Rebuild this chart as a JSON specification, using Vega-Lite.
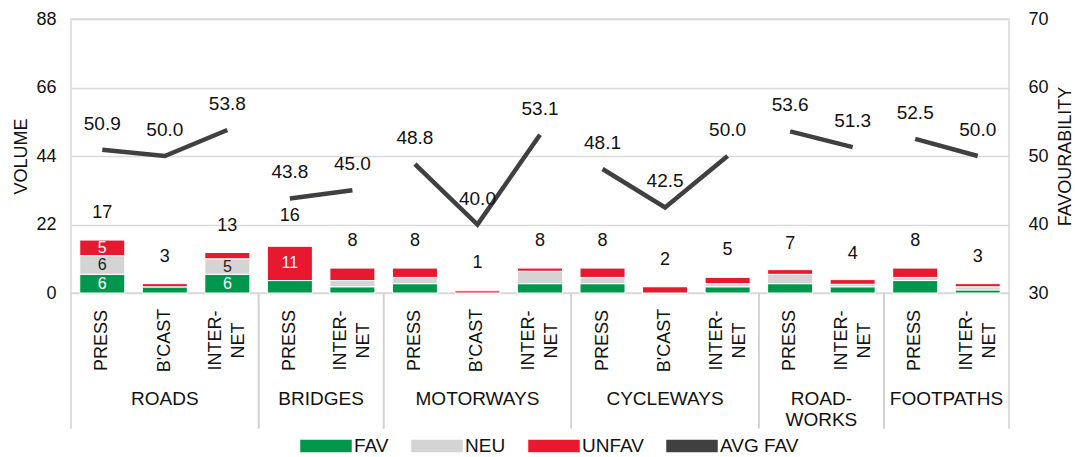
{
  "$schema": "https://vega.github.io/schema/vega-lite/v6.json",
  "width": 938,
  "height": 274,
  "autosize": "none",
  "padding": {"left": 71, "top": 19, "right": 66, "bottom": 164},
  "config": {
    "font": "Liberation Sans",
    "view": {"stroke": "#d9d9d9", "strokeWidth": 1.5},
    "text": {"font": "Liberation Sans", "color": "#111"}
  },
  "datasets": {
    "bars": [
      {"cat": "ROADS", "slot": "ROADS|PRESS", "FAV": 6, "NEU": 6, "UNFAV": 5, "total": 17, "avg": 50.9},
      {"cat": "ROADS", "slot": "ROADS|B'CAST", "FAV": 2, "NEU": 0, "UNFAV": 1, "total": 3, "avg": 50.0},
      {"cat": "ROADS", "slot": "ROADS|INTERNET", "FAV": 6, "NEU": 5, "UNFAV": 2, "total": 13, "avg": 53.8},
      {"cat": "BRIDGES", "slot": "BRIDGES|PRESS", "FAV": 4, "NEU": 0, "UNFAV": 11, "total": 16, "avg": 43.8},
      {"cat": "BRIDGES", "slot": "BRIDGES|INTERNET", "FAV": 2, "NEU": 2, "UNFAV": 4, "total": 8, "avg": 45.0},
      {"cat": "MOTORWAYS", "slot": "MOTORWAYS|PRESS", "FAV": 3, "NEU": 2, "UNFAV": 3, "total": 8, "avg": 48.8},
      {"cat": "MOTORWAYS", "slot": "MOTORWAYS|B'CAST", "FAV": 0, "NEU": 0, "UNFAV": 0.7, "total": 1, "avg": 40.0},
      {"cat": "MOTORWAYS", "slot": "MOTORWAYS|INTERNET", "FAV": 3, "NEU": 4, "UNFAV": 1, "total": 8, "avg": 53.1},
      {"cat": "CYCLEWAYS", "slot": "CYCLEWAYS|PRESS", "FAV": 3, "NEU": 2, "UNFAV": 3, "total": 8, "avg": 48.1},
      {"cat": "CYCLEWAYS", "slot": "CYCLEWAYS|B'CAST", "FAV": 0, "NEU": 0, "UNFAV": 2, "total": 2, "avg": 42.5},
      {"cat": "CYCLEWAYS", "slot": "CYCLEWAYS|INTERNET", "FAV": 2, "NEU": 1, "UNFAV": 2, "total": 5, "avg": 50.0},
      {"cat": "ROADWORKS", "slot": "ROADWORKS|PRESS", "FAV": 3, "NEU": 3, "UNFAV": 1.5, "total": 7, "avg": 53.6},
      {"cat": "ROADWORKS", "slot": "ROADWORKS|INTERNET", "FAV": 2, "NEU": 0.8, "UNFAV": 1.5, "total": 4, "avg": 51.3},
      {"cat": "FOOTPATHS", "slot": "FOOTPATHS|PRESS", "FAV": 4, "NEU": 1, "UNFAV": 3, "total": 8, "avg": 52.5},
      {"cat": "FOOTPATHS", "slot": "FOOTPATHS|INTERNET", "FAV": 1, "NEU": 1, "UNFAV": 1, "total": 3, "avg": 50.0}
    ],
    "cats": [
      {"cat": "ROADS", "first": "ROADS|PRESS", "last": "ROADS|INTERNET", "anchor": "ROADS|B'CAST", "n": 3},
      {"cat": "BRIDGES", "first": "BRIDGES|PRESS", "last": "BRIDGES|INTERNET", "anchor": "BRIDGES|PRESS", "n": 2},
      {"cat": "MOTORWAYS", "first": "MOTORWAYS|PRESS", "last": "MOTORWAYS|INTERNET", "anchor": "MOTORWAYS|B'CAST", "n": 3},
      {"cat": "CYCLEWAYS", "first": "CYCLEWAYS|PRESS", "last": "CYCLEWAYS|INTERNET", "anchor": "CYCLEWAYS|B'CAST", "n": 3},
      {"cat": "ROAD-\nWORKS", "first": "ROADWORKS|PRESS", "last": "ROADWORKS|INTERNET", "anchor": "ROADWORKS|PRESS", "n": 2},
      {"cat": "FOOTPATHS", "first": "FOOTPATHS|PRESS", "last": "FOOTPATHS|INTERNET", "anchor": "FOOTPATHS|PRESS", "n": 2}
    ]
  },
  "layer": [
    {
      "layer": [
        {
          "data": {"name": "bars"},
          "transform": [{"fold": ["FAV", "NEU", "UNFAV"], "as": ["series", "value"]}],
          "mark": {"type": "bar", "width": {"band": 0.72}, "stroke": "white", "strokeWidth": 1},
          "encoding": {
            "x": {
              "field": "slot", "type": "nominal",
              "scale": {"domain": ["ROADS|PRESS","ROADS|B'CAST","ROADS|INTERNET","BRIDGES|PRESS","BRIDGES|INTERNET","MOTORWAYS|PRESS","MOTORWAYS|B'CAST","MOTORWAYS|INTERNET","CYCLEWAYS|PRESS","CYCLEWAYS|B'CAST","CYCLEWAYS|INTERNET","ROADWORKS|PRESS","ROADWORKS|INTERNET","FOOTPATHS|PRESS","FOOTPATHS|INTERNET"], "paddingInner": 0, "paddingOuter": 0},
              "axis": {
                "title": null,
                "labelExpr": "split(datum.value,'|')[1] == 'INTERNET' ? ['INTER-','NET'] : split(datum.value,'|')[1]",
                "labelAngle": -90, "labelAlign": "center", "labelBaseline": "middle",
                "labelOffset": {"condition": {"test": "indexof(datum.value, 'INTERNET') >= 0", "value": -11}, "value": 0},
                "labelPadding": 47, "ticks": false, "tickSize": 0, "domain": false, "grid": false,
                "labelFontSize": 18, "labelLineHeight": 23, "labelColor": "#111", "labelFont": "Liberation Sans"
              }
            },
            "y": {
              "field": "value", "type": "quantitative", "stack": "zero",
              "scale": {"domain": [0, 88], "nice": false},
              "axis": {
                "title": "VOLUME", "values": [0, 22, 44, 66, 88], "grid": true, "gridColor": "#d9d9d9", "gridWidth": 1.5,
                "ticks": false, "domain": false, "labelPadding": 15, "labelFontSize": 18, "labelColor": "#111",
                "titleFontSize": 18, "titleFontWeight": "normal", "titleColor": "#111", "titlePadding": 5, "labelFont": "Liberation Sans", "titleFont": "Liberation Sans"
              }
            },
            "order": {"field": "series", "sort": "ascending"},
            "color": {
              "field": "series", "type": "nominal",
              "scale": {"domain": ["FAV", "NEU", "UNFAV", "AVG FAV"], "range": ["#00964B", "#D4D4D4", "#E8182E", "#404040"]},
              "legend": {
                "orient": "none", "legendX": 229, "legendY": 401, "direction": "horizontal", "title": null,
                "labelFontSize": 19, "labelColor": "#111", "labelFont": "Liberation Sans", "symbolSize": 2500, "labelOffset": 2,
                "columnPadding": 20, "padding": 0, "symbolType": "M-1,-0.22H1V0.22H-1Z",
                "encode": {"symbols": {"update": {
                  "shape": {"signal": "datum.value === 'AVG FAV' ? 'M-1,-0.1H1V0.1H-1Z' : 'M-1,-0.22H1V0.22H-1Z'"},
                  "fill": {"scale": "color", "field": "value"},
                  "stroke": {"value": "transparent"},
                  "strokeWidth": {"value": 0},
                  "opacity": {"value": 1}
                }}}
              }
            }
          }
        },
        {
          "data": {"name": "bars"},
          "mark": {"type": "text", "dy": -27, "fontSize": 18, "baseline": "middle"},
          "encoding": {
            "x": {"field": "slot", "type": "nominal"},
            "y": {"field": "total", "type": "quantitative", "scale": {"domain": [0, 88], "nice": false}},
            "text": {"field": "total", "type": "quantitative", "format": "d"}
          }
        },
        {
          "data": {"name": "bars"},
          "transform": [
            {"fold": ["FAV", "NEU", "UNFAV"], "as": ["series", "value"]},
            {"stack": "value", "groupby": ["slot"], "sort": [{"field": "series", "order": "ascending"}], "as": ["v0", "v1"]},
            {"filter": {"field": "value", "gte": 5}}
          ],
          "mark": {"type": "text", "fontSize": 16, "baseline": "middle", "dy": {"expr": "-datum.value * 274 / 88 / 2"}},
          "encoding": {
            "x": {"field": "slot", "type": "nominal"},
            "y": {"field": "v0", "type": "quantitative", "scale": {"domain": [0, 88], "nice": false}},
            "text": {"field": "value", "type": "quantitative"},
            "color": {"condition": {"test": "datum.series == 'NEU'", "value": "#222"}, "value": "#ffffff"}
          }
        },
        {
          "data": {"name": "cats"},
          "mark": {"type": "rule", "color": "#d0d0d0", "strokeWidth": 1.5},
          "encoding": {
            "x": {"field": "first", "type": "nominal", "bandPosition": 0},
            "y": {"datum": 0, "scale": {"domain": [0, 88], "nice": false}},
            "y2": {"datum": -43.5}
          }
        },
        {
          "data": {"name": "cats"},
          "mark": {"type": "rule", "color": "#d0d0d0", "strokeWidth": 1.5},
          "encoding": {
            "x": {"field": "last", "type": "nominal", "bandPosition": 1},
            "y": {"datum": 0, "scale": {"domain": [0, 88], "nice": false}},
            "y2": {"datum": -43.5}
          }
        },
        {
          "data": {"name": "cats"},
          "transform": [{"filter": {"field": "n", "equal": 3}}],
          "mark": {"type": "text", "baseline": "top", "lineBreak": "\n", "fontSize": 19, "lineHeight": 21},
          "encoding": {
            "x": {"field": "anchor", "type": "nominal", "bandPosition": 0.5},
            "y": {"datum": -31, "scale": {"domain": [0, 88], "nice": false}},
            "text": {"field": "cat", "type": "nominal"}
          }
        },
        {
          "data": {"name": "cats"},
          "transform": [{"filter": {"field": "n", "equal": 2}}],
          "mark": {"type": "text", "baseline": "top", "lineBreak": "\n", "fontSize": 19, "lineHeight": 21},
          "encoding": {
            "x": {"field": "anchor", "type": "nominal", "bandPosition": 1},
            "y": {"datum": -31, "scale": {"domain": [0, 88], "nice": false}},
            "text": {"field": "cat", "type": "nominal"}
          }
        }
      ]
    },
    {
      "data": {"name": "bars"},
      "layer": [
        {
          "mark": {"type": "line", "strokeWidth": 4.5, "strokeCap": "butt", "strokeJoin": "miter"},
          "encoding": {
            "x": {"field": "slot", "type": "nominal"},
            "y": {
              "field": "avg", "type": "quantitative", "scale": {"domain": [30, 70], "nice": false, "zero": false},
              "axis": {
                "orient": "right", "title": "FAVOURABILITY", "values": [30, 40, 50, 60, 70], "grid": false,
                "ticks": false, "domain": false, "labelPadding": 19, "labelFontSize": 18, "labelColor": "#111",
                "titleFontSize": 18, "titleFontWeight": "normal", "titleColor": "#111", "titleAngle": 270, "titlePadding": 26,
                "labelFont": "Liberation Sans", "titleFont": "Liberation Sans"
              }
            },
            "color": {"datum": "AVG FAV", "type": "nominal"},
            "detail": {"field": "cat", "type": "nominal"}
          }
        },
        {
          "mark": {"type": "text", "dy": -26, "fontSize": 19, "baseline": "middle"},
          "encoding": {
            "x": {"field": "slot", "type": "nominal"},
            "y": {"field": "avg", "type": "quantitative", "scale": {"domain": [30, 70], "nice": false, "zero": false}},
            "text": {"field": "avg", "type": "quantitative", "format": ".1f"}
          }
        }
      ]
    }
  ],
  "resolve": {"scale": {"y": "independent"}}
}
